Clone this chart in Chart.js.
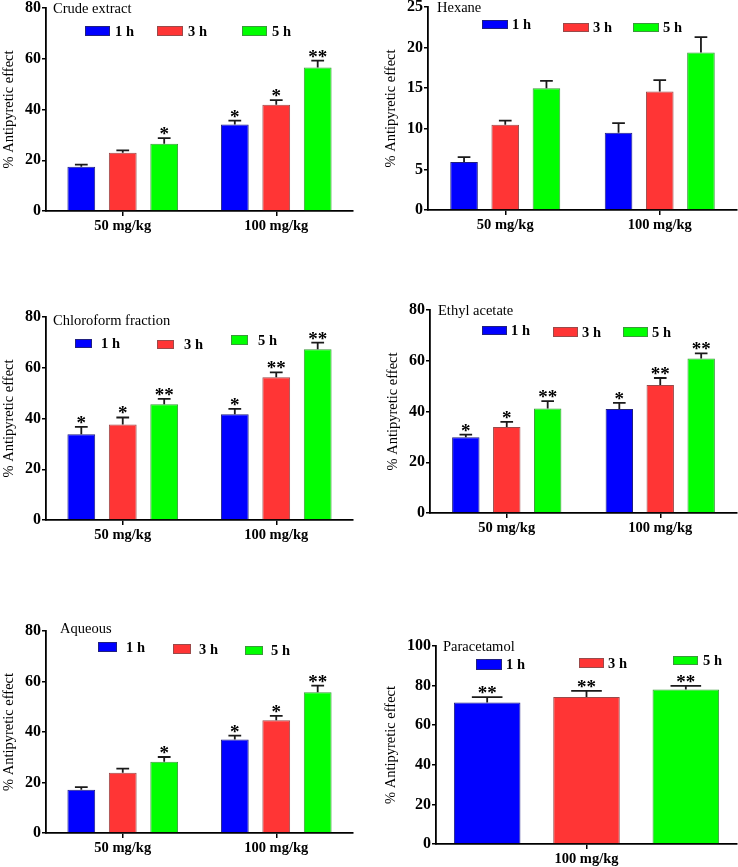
<!DOCTYPE html>
<html>
<head>
<meta charset="utf-8">
<script src="https://cdn.jsdelivr.net/npm/chart.js@4.4.1/dist/chart.umd.min.js"></script>
<style>
  html, body { margin: 0; padding: 0; background: #fff; }
  #page { position: relative; width: 738px; height: 867px; overflow: hidden; background: #fff; }
  #page canvas { position: absolute; }
</style>
</head>
<body>
<div id="page"></div>
<script>
// categories and series
const doses = ['50 mg/kg', '100 mg/kg'];
const paraDoses = ['100 mg/kg'];
const timeLabels = ['1 h', '3 h', '5 h'];
const yAxisTitle = '% Antipyretic effect';

// means / sem per series (1 h, 3 h, 5 h), one value per dose
const crudeMeans = [[17.4, 34.1], [23.0, 41.9], [26.5, 56.6]];
const crudeErrors = [[0.9, 1.5], [0.9, 1.8], [2.2, 2.7]];
const crudeStars = [['', '*'], ['', '*'], ['*', '**']];

const hexaneMeans = [[5.9, 9.5], [10.5, 14.6], [15.0, 19.4]];
const hexaneErrors = [[0.6, 1.2], [0.5, 1.4], [0.9, 1.9]];
const hexaneStars = [['', ''], ['', ''], ['', '']];

const chloroMeans = [[33.8, 41.7], [37.6, 56.3], [45.6, 67.3]];
const chloroErrors = [[2.9, 2.1], [2.8, 1.9], [2.1, 2.6]];
const chloroStars = [['*', '*'], ['*', '**'], ['**', '**']];

const ethylMeans = [[29.9, 41.0], [33.9, 50.4], [41.2, 60.9]];
const ethylErrors = [[1.0, 2.4], [2.0, 2.8], [2.9, 2.0]];
const ethylStars = [['*', '*'], ['*', '**'], ['**', '**']];

const aqueousMeans = [[17.1, 37.0], [23.9, 44.7], [28.2, 55.7]];
const aqueousErrors = [[1.1, 1.6], [1.6, 1.7], [1.9, 2.7]];
const aqueousStars = [['', '*'], ['', '*'], ['*', '**']];

const paraMeans = [[71.5], [74.3], [78.0]];
const paraErrors = [[2.7], [3.0], [1.9]];
const paraStars = [['**'], ['**'], ['**']];

// y ticks
const ticks80 = { max: 80, step: 20 };
const ticks25 = { max: 25, step: 5 };
const ticks100 = { max: 100, step: 20 };

const fills = ['#0000ff', '#ff3535', '#00ff00'];
const borders = ['#202080', '#9a4a4a', '#3a9a3a'];
const FONT = "'Liberation Serif', 'Times New Roman', serif";

const PAD_TOP = 14, X_AXIS_H = 30;

// layout of each panel (page pixels)
const panels = [
  { title: 'Crude extract', cats: doses, means: crudeMeans, errs: crudeErrors, stars: crudeStars, y: ticks80,
    area: { l: 46, t: 8, r: 353, b: 211 }, yW: 46, cat: 0.81, bar: 0.67, titleAt: [53, 9],
    legend: [[85, 26, 25, 10, 115], [157, 26, 26, 10, 188], [242, 26, 25, 10, 272]] },
  { title: 'Hexane', cats: doses, means: hexaneMeans, errs: hexaneErrors, stars: hexaneStars, y: ticks25,
    area: { l: 428, t: 7, r: 737, b: 210 }, yW: 46, cat: 0.80, bar: 0.67, titleAt: [437, 8],
    legend: [[482, 20, 26, 9, 512], [563, 23, 26, 9, 593], [633, 23, 26, 9, 663]] },
  { title: 'Chloroform fraction', cats: doses, means: chloroMeans, errs: chloroErrors, stars: chloroStars, y: ticks80,
    area: { l: 46, t: 317, r: 353, b: 520 }, yW: 46, cat: 0.81, bar: 0.67, titleAt: [53, 321],
    legend: [[75, 339, 17, 9, 101], [157, 340, 17, 9, 184], [231, 335, 17, 10, 258]] },
  { title: 'Ethyl acetate', cats: doses, means: ethylMeans, errs: ethylErrors, stars: ethylStars, y: ticks80,
    area: { l: 430, t: 310, r: 737, b: 513 }, yW: 46, cat: 0.80, bar: 0.67, titleAt: [438, 311],
    legend: [[482, 326, 25, 9, 511], [553, 327, 25, 10, 582], [623, 327, 25, 10, 652]] },
  { title: 'Aqueous', cats: doses, means: aqueousMeans, errs: aqueousErrors, stars: aqueousStars, y: ticks80,
    area: { l: 46, t: 631, r: 353, b: 833 }, yW: 46, cat: 0.81, bar: 0.67, titleAt: [60, 629],
    legend: [[98, 642, 19, 10, 126], [173, 644, 18, 10, 199], [245, 646, 18, 9, 271]] },
  { title: 'Paracetamol', cats: paraDoses, means: paraMeans, errs: paraErrors, stars: paraStars, y: ticks100,
    area: { l: 436, t: 646, r: 737, b: 844 }, yW: 54, cat: 0.99, bar: 0.67, titleAt: [443, 647],
    legend: [[476, 659, 26, 11, 506], [579, 658, 25, 10, 608], [673, 656, 25, 9, 703]] },
];

const extrasPlugin = {
  id: 'extras',
  afterDatasetsDraw(chart, args, opts) {
    const p = opts.panel;
    const ctx = chart.ctx;
    const yScale = chart.scales.y;
    const ox = p.area.l - p.yW, oy = p.area.t - PAD_TOP;

    ctx.save();
    // error bars + significance stars
    p.means.forEach((series, i) => {
      const meta = chart.getDatasetMeta(i);
      series.forEach((v, j) => {
        const bar = meta.data[j];
        const top = yScale.getPixelForValue(v + p.errs[i][j]);
        const half = bar.width * 0.23;
        ctx.strokeStyle = '#1a1a1a';
        ctx.lineWidth = 1.8;
        ctx.beginPath();
        ctx.moveTo(bar.x, bar.y);
        ctx.lineTo(bar.x, top);
        ctx.moveTo(bar.x - half, top);
        ctx.lineTo(bar.x + half, top);
        ctx.stroke();

        const s = p.stars[i][j];
        if (s) {
          ctx.font = 'bold 19px ' + FONT;
          ctx.fillStyle = '#000';
          ctx.textAlign = 'center';
          ctx.textBaseline = 'alphabetic';
          const m = ctx.measureText(s);
          const mid = (m.actualBoundingBoxAscent - m.actualBoundingBoxDescent) / 2;
          ctx.fillText(s, bar.x, top - 7 + mid);
        }
      });
    });

    // panel title
    ctx.font = '14.5px ' + FONT;
    ctx.fillStyle = '#000';
    ctx.textAlign = 'left';
    ctx.textBaseline = 'middle';
    ctx.fillText(p.title, p.titleAt[0] - ox, p.titleAt[1] - oy);

    // legend
    p.legend.forEach(([bx, by, bw, bh, lx], i) => {
      ctx.fillStyle = fills[i];
      ctx.fillRect(bx - ox, by - oy, bw, bh);
      ctx.strokeStyle = borders[i];
      ctx.lineWidth = 1;
      ctx.strokeRect(bx - ox + 0.5, by - oy + 0.5, bw - 1, bh - 1);
      ctx.font = 'bold 14.5px ' + FONT;
      ctx.fillStyle = '#000';
      ctx.textBaseline = 'middle';
      ctx.fillText(timeLabels[i], lx - ox, by - oy + bh / 2 + 1);
    });
    ctx.restore();
  }
};

const page = document.getElementById('page');

panels.forEach(p => {
  const canvas = document.createElement('canvas');
  const w = p.yW + (p.area.r - p.area.l) + 1;
  const h = PAD_TOP + (p.area.b - p.area.t) + X_AXIS_H;
  canvas.width = w;
  canvas.height = h;
  canvas.style.left = (p.area.l - p.yW) + 'px';
  canvas.style.top = (p.area.t - PAD_TOP) + 'px';
  canvas.style.width = w + 'px';
  canvas.style.height = h + 'px';
  page.appendChild(canvas);

  new Chart(canvas, {
    type: 'bar',
    data: {
      labels: p.cats,
      datasets: p.means.map((vals, i) => ({
        label: timeLabels[i],
        data: vals,
        backgroundColor: fills[i],
        borderColor: borders[i],
        borderWidth: 1,
        categoryPercentage: p.cat,
        barPercentage: p.bar,
      }))
    },
    options: {
      responsive: false,
      animation: false,
      devicePixelRatio: 1,
      layout: { padding: { top: PAD_TOP, right: 1, left: 0, bottom: 0 }, autoPadding: false },
      plugins: {
        legend: { display: false },
        tooltip: { enabled: false },
        extras: { panel: p }
      },
      scales: {
        x: {
          offset: true,
          grid: { offset: false, drawOnChartArea: false, drawTicks: true, tickLength: 5, color: '#000', lineWidth: 1.5 },
          border: { display: true, color: '#000', width: 1.8 },
          ticks: { color: '#000', padding: 2, font: { family: FONT, size: 14.5, weight: 'bold' }, maxRotation: 0 },
          afterFit(scale) { scale.height = X_AXIS_H; }
        },
        y: {
          min: 0,
          max: p.y.max,
          grid: { drawOnChartArea: false, drawTicks: true, tickLength: 4, color: '#000', lineWidth: 1.5 },
          border: { display: true, color: '#000', width: 1.8 },
          ticks: { stepSize: p.y.step, color: '#000', padding: 1, font: { family: FONT, size: 16, weight: 'bold' } },
          title: { display: true, text: yAxisTitle, color: '#000', padding: { top: 0, bottom: 0 }, font: { family: FONT, size: 14.5 } },
          afterFit(scale) { scale.width = p.yW; }
        }
      }
    },
    plugins: [extrasPlugin]
  });
});
</script>
</body>
</html>
